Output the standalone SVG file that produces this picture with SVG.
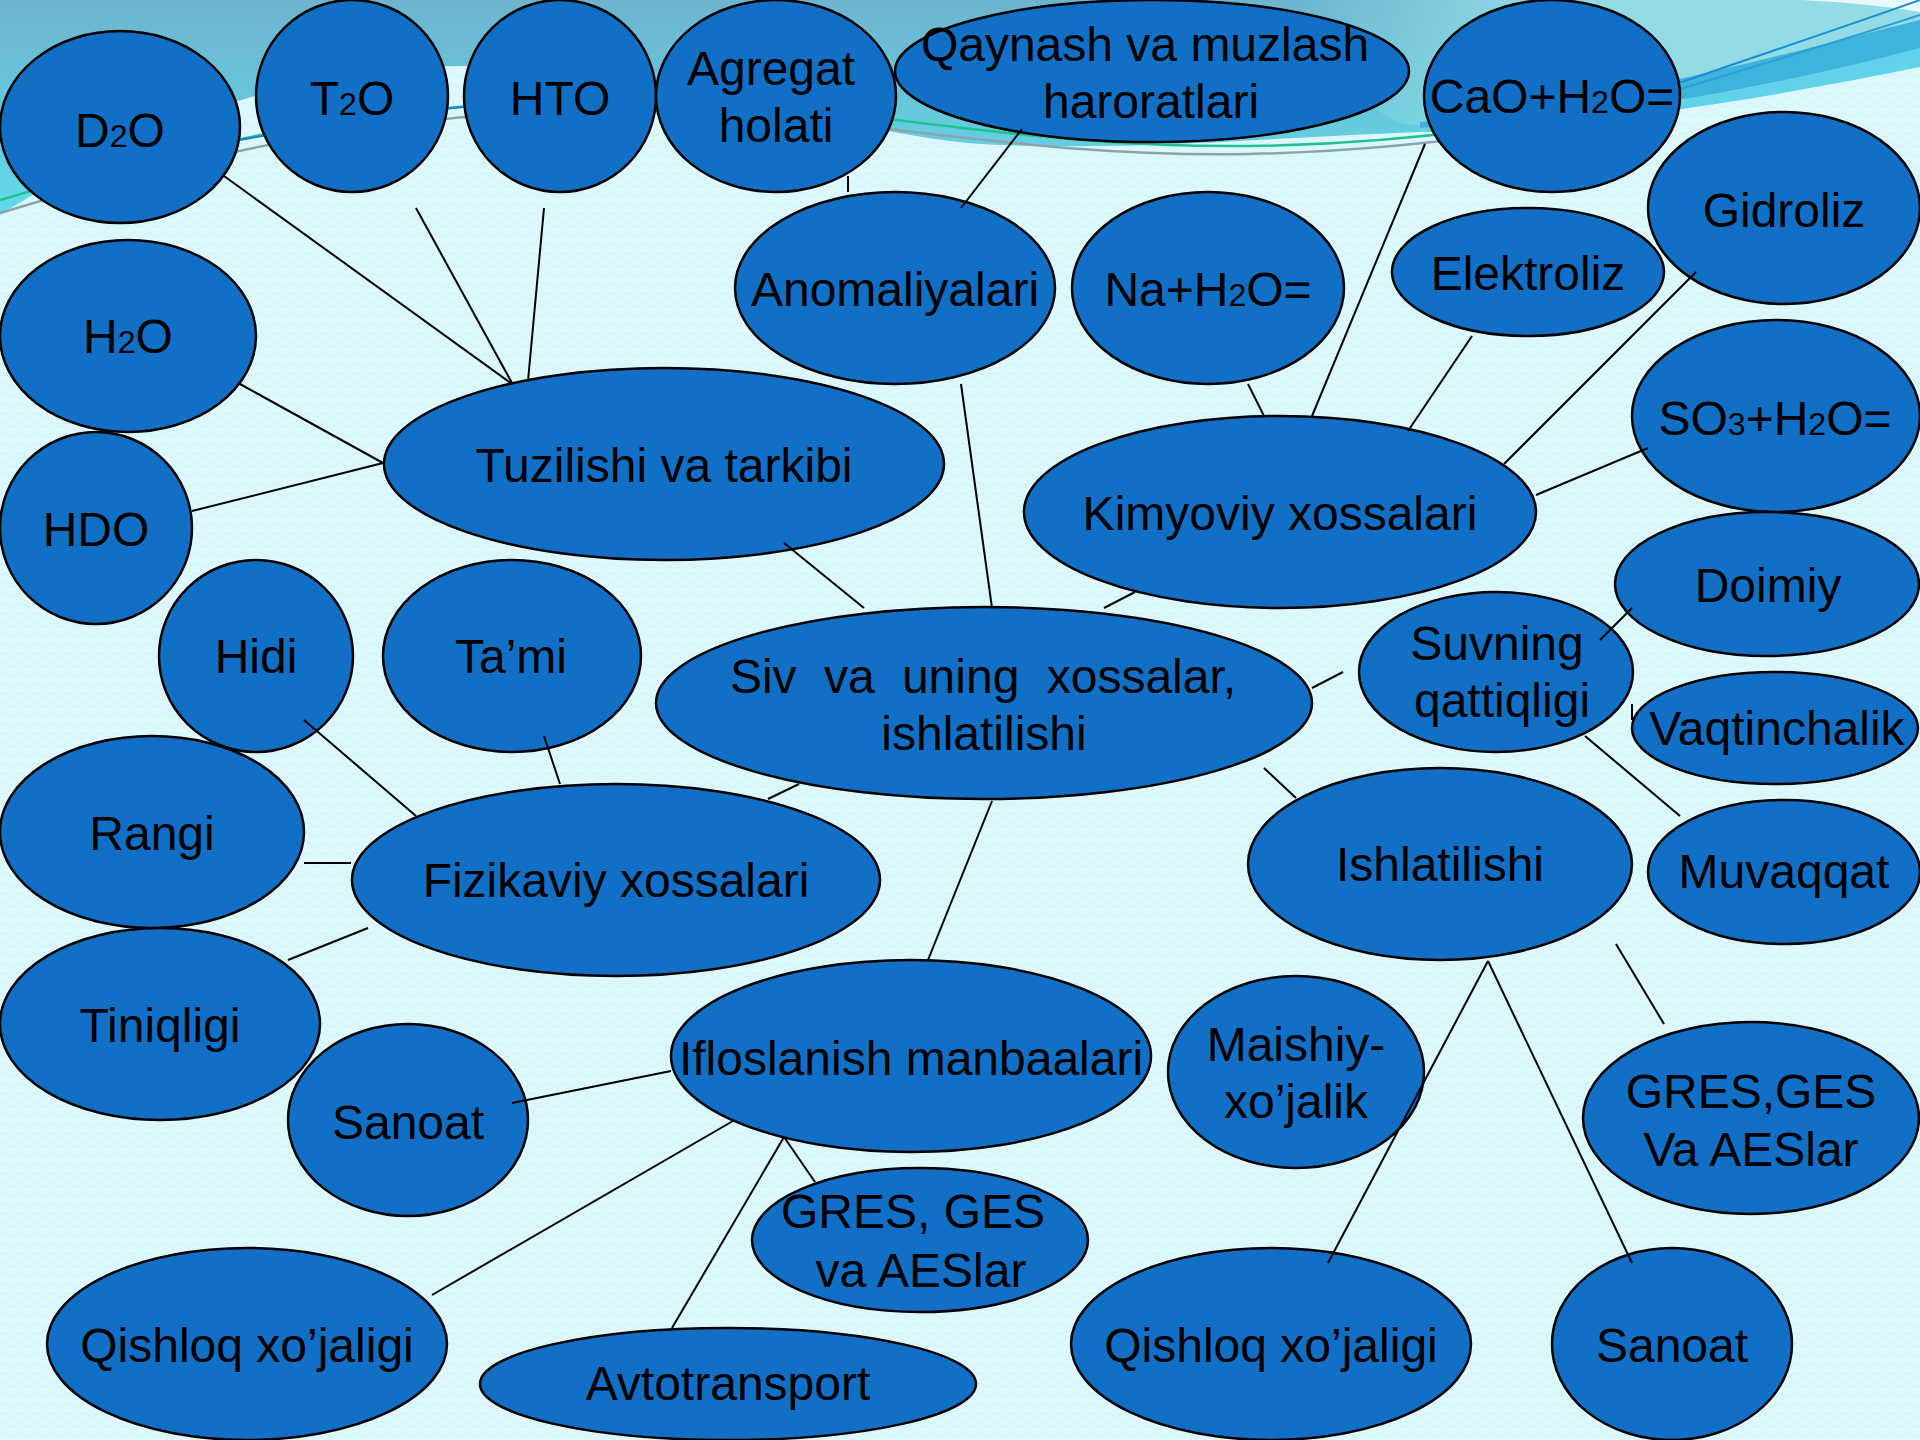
<svg xmlns="http://www.w3.org/2000/svg" width="1920" height="1440" viewBox="0 0 1920 1440">
<defs>
<style>
.node{fill:#1170c6;stroke:#000;stroke-width:2.5}
.t{font-family:"Liberation Sans",Arial,sans-serif;font-size:48px;fill:#000;text-anchor:middle}
.s{font-size:32px}
.c{stroke:#000;stroke-width:2;fill:none}
</style>
<linearGradient id="topg" x1="0" y1="0" x2="0" y2="1">
<stop offset="0" stop-color="#6fb4cf"/>
<stop offset="1" stop-color="#5fdbe8"/>
</linearGradient>
<linearGradient id="rightg" x1="1300" y1="0" x2="1560" y2="0" gradientUnits="userSpaceOnUse">
<stop offset="0" stop-color="#93dce6" stop-opacity="0"/>
<stop offset="1" stop-color="#93dce6" stop-opacity="1"/>
</linearGradient>
<pattern id="wave" width="16" height="10" patternUnits="userSpaceOnUse">
<path d="M0,5 Q4,1 8,5 T16,5" fill="none" stroke="#c9eff5" stroke-width="1"/>
</pattern>
</defs>
<g id="background">
<rect width="1920" height="1440" fill="#dcf8fc"/>
<rect width="1920" height="1440" fill="url(#wave)" opacity="0.7"/>
<path d="M0,0 H1920 V60 C1780,90 1600,128 1420,132 C1260,138 1150,150 1000,145 C850,140 720,70 460,66 C300,66 150,120 0,215 Z" fill="url(#topg)"/>
<path d="M1300,0 H1920 V20 C1780,55 1600,110 1420,125 C1380,128 1340,80 1300,0 Z" fill="url(#rightg)"/>
<path d="M1420,122 C1600,105 1780,55 1920,20 V48 C1780,85 1600,120 1420,128 Z" fill="#3eb3db"/>
<path d="M1420,128 C1600,120 1780,85 1920,48 V67 C1780,95 1600,128 1420,132 Z" fill="#62d2ea"/>
<path d="M1800,0 H1920 V12 C1880,5 1840,2 1800,0 Z" fill="#ffffff" opacity="0.8"/>
<path d="M0,200 C200,140 400,100 620,100 C850,100 1000,148 1250,146 C1420,144 1560,120 1680,92" fill="none" stroke="#1fc28f" stroke-width="2.5"/>
<path d="M0,213 C200,152 400,110 620,110 C850,110 1000,158 1250,154 C1420,150 1560,128 1680,100" fill="none" stroke="#8aa4ab" stroke-width="2.5"/>
<path d="M240,140 C400,110 500,100 620,100" fill="none" stroke="#1b7fd0" stroke-width="2"/>
<path d="M1670,86 C1760,55 1850,25 1920,0" fill="none" stroke="#1b8fd0" stroke-width="2"/>
<path d="M1670,92 C1760,65 1850,38 1920,15" fill="none" stroke="#2a9fd8" stroke-width="2"/>
</g>
<g id="nodes">
<g id="n-d2o"><ellipse class="node" cx="120" cy="127" rx="120" ry="96"/><text class="t" x="120" y="147">D<tspan class="s">2</tspan>O</text></g>
<g id="n-t2o"><ellipse class="node" cx="352" cy="96" rx="96" ry="96"/><text class="t" x="352" y="115">T<tspan class="s">2</tspan>O</text></g>
<g id="n-hto"><ellipse class="node" cx="560" cy="96" rx="96" ry="96"/><text class="t" x="560" y="115">HTO</text></g>
<g id="n-agregat"><ellipse class="node" cx="776" cy="96" rx="120" ry="96"/><text class="t" x="771" y="85">Agregat</text><text class="t" x="776" y="142">holati</text></g>
<g id="n-qaynash"><ellipse class="node" cx="1152" cy="71" rx="257" ry="71"/><text class="t" x="1145" y="61">Qaynash va muzlash</text><text class="t" x="1151" y="118">haroratlari</text></g>
<g id="n-cao"><ellipse class="node" cx="1552" cy="96" rx="128" ry="96"/><text class="t" x="1552" y="113">CaO+H<tspan class="s">2</tspan>O=</text></g>
<g id="n-gidroliz"><ellipse class="node" cx="1784" cy="208" rx="136" ry="96"/><text class="t" x="1784" y="227">Gidroliz</text></g>
<g id="n-h2o"><ellipse class="node" cx="128" cy="336" rx="128" ry="96"/><text class="t" x="128" y="353">H<tspan class="s">2</tspan>O</text></g>
<g id="n-hdo"><ellipse class="node" cx="96" cy="528" rx="96" ry="96"/><text class="t" x="96" y="546">HDO</text></g>
<g id="n-tuzilishi"><ellipse class="node" cx="664" cy="464" rx="280" ry="96"/><text class="t" x="664" y="482">Tuzilishi va tarkibi</text></g>
<g id="n-anomaliyalari"><ellipse class="node" cx="895" cy="288" rx="160" ry="96"/><text class="t" x="895" y="306">Anomaliyalari</text></g>
<g id="n-na"><ellipse class="node" cx="1208" cy="288" rx="136" ry="96"/><text class="t" x="1208" y="306">Na+H<tspan class="s">2</tspan>O=</text></g>
<g id="n-elektroliz"><ellipse class="node" cx="1528" cy="272" rx="136" ry="64"/><text class="t" x="1528" y="290">Elektroliz</text></g>
<g id="n-kimyoviy"><ellipse class="node" cx="1280" cy="512" rx="256" ry="96"/><text class="t" x="1280" y="530">Kimyoviy xossalari</text></g>
<g id="n-so3"><ellipse class="node" cx="1776" cy="416" rx="144" ry="96"/><text class="t" x="1775" y="435">SO<tspan class="s">3</tspan>+H<tspan class="s">2</tspan>O=</text></g>
<g id="n-doimiy"><ellipse class="node" cx="1767" cy="584" rx="152" ry="72"/><text class="t" x="1768" y="602">Doimiy</text></g>
<g id="n-suvning"><ellipse class="node" cx="1496" cy="672" rx="137" ry="80"/><text class="t" x="1497" y="660">Suvning</text><text class="t" x="1502" y="717">qattiqligi</text></g>
<g id="n-vaqtinchalik"><ellipse class="node" cx="1775" cy="728" rx="143" ry="56"/><text class="t" x="1777" y="745">Vaqtinchalik</text></g>
<g id="n-muvaqqat"><ellipse class="node" cx="1784" cy="872" rx="136" ry="72"/><text class="t" x="1784" y="888">Muvaqqat</text></g>
<g id="n-ishlatilishi"><ellipse class="node" cx="1440" cy="864" rx="192" ry="96"/><text class="t" x="1440" y="881">Ishlatilishi</text></g>
<g id="n-siv"><ellipse class="node" cx="984" cy="703" rx="328" ry="96"/><text class="t" x="983" y="693" word-spacing="14">Siv va uning xossalar,</text><text class="t" x="984" y="750">ishlatilishi</text></g>
<g id="n-hidi"><ellipse class="node" cx="256" cy="656" rx="97" ry="96"/><text class="t" x="256" y="673">Hidi</text></g>
<g id="n-tami"><ellipse class="node" cx="512" cy="656" rx="129" ry="96"/><text class="t" x="511" y="673">Ta’mi</text></g>
<g id="n-rangi"><ellipse class="node" cx="152" cy="832" rx="152" ry="96"/><text class="t" x="152" y="850">Rangi</text></g>
<g id="n-fizikaviy"><ellipse class="node" cx="616" cy="880" rx="264" ry="96"/><text class="t" x="616" y="897">Fizikaviy xossalari</text></g>
<g id="n-tiniqligi"><ellipse class="node" cx="160" cy="1024" rx="160" ry="96"/><text class="t" x="160" y="1042">Tiniqligi</text></g>
<g id="n-sanoat1"><ellipse class="node" cx="408" cy="1120" rx="120" ry="96"/><text class="t" x="408" y="1139">Sanoat</text></g>
<g id="n-ifloslanish"><ellipse class="node" cx="911" cy="1056" rx="240" ry="96"/><text class="t" x="911" y="1075">Ifloslanish manbaalari</text></g>
<g id="n-maishiy"><ellipse class="node" cx="1296" cy="1072" rx="128" ry="96"/><text class="t" x="1296" y="1061">Maishiy-</text><text class="t" x="1296" y="1118">xo’jalik</text></g>
<g id="n-gres2"><ellipse class="node" cx="1751" cy="1118" rx="168" ry="96"/><text class="t" x="1751" y="1108">GRES,GES</text><text class="t" x="1751" y="1166">Va AESlar</text></g>
<g id="n-gres1"><ellipse class="node" cx="920" cy="1240" rx="168" ry="72"/><text class="t" x="913" y="1228">GRES, GES</text><text class="t" x="921" y="1287">va AESlar</text></g>
<g id="n-qishloq1"><ellipse class="node" cx="247" cy="1344" rx="200" ry="96"/><text class="t" x="247" y="1362">Qishloq xo’jaligi</text></g>
<g id="n-avto"><ellipse class="node" cx="728" cy="1384" rx="248" ry="56"/><text class="t" x="728" y="1400">Avtotransport</text></g>
<g id="n-qishloq2"><ellipse class="node" cx="1271" cy="1344" rx="200" ry="96"/><text class="t" x="1271" y="1362">Qishloq xo’jaligi</text></g>
<g id="n-sanoat2"><ellipse class="node" cx="1672" cy="1344" rx="120" ry="96"/><text class="t" x="1672" y="1362">Sanoat</text></g>
</g>
<g id="connectors">
<line class="c" x1="224" y1="176" x2="512" y2="384"/>
<line class="c" x1="416" y1="208" x2="512" y2="383"/>
<line class="c" x1="544" y1="208" x2="528" y2="381"/>
<line class="c" x1="240" y1="384" x2="383" y2="463"/>
<line class="c" x1="192" y1="511" x2="383" y2="463"/>
<line class="c" x1="848" y1="176" x2="848" y2="192"/>
<line class="c" x1="1022" y1="129" x2="961" y2="208"/>
<line class="c" x1="784" y1="543" x2="864" y2="608"/>
<line class="c" x1="961" y1="384" x2="992" y2="608"/>
<line class="c" x1="1135" y1="592" x2="1104" y2="608"/>
<line class="c" x1="1248" y1="384" x2="1264" y2="416"/>
<line class="c" x1="1425" y1="144" x2="1312" y2="416"/>
<line class="c" x1="1472" y1="336" x2="1408" y2="431"/>
<line class="c" x1="1696" y1="272" x2="1504" y2="464"/>
<line class="c" x1="1648" y1="448" x2="1536" y2="495"/>
<line class="c" x1="1312" y1="688" x2="1343" y2="672"/>
<line class="c" x1="1600" y1="640" x2="1632" y2="608"/>
<line class="c" x1="1632" y1="704" x2="1632" y2="720"/>
<line class="c" x1="1585" y1="736" x2="1680" y2="816"/>
<line class="c" x1="1264" y1="768" x2="1296" y2="798"/>
<line class="c" x1="1616" y1="944" x2="1664" y2="1024"/>
<line class="c" x1="1488" y1="961" x2="1328" y2="1263"/>
<line class="c" x1="1488" y1="961" x2="1632" y2="1263"/>
<line class="c" x1="799" y1="784" x2="768" y2="799"/>
<line class="c" x1="544" y1="736" x2="560" y2="784"/>
<line class="c" x1="304" y1="720" x2="416" y2="816"/>
<line class="c" x1="304" y1="863" x2="351" y2="863"/>
<line class="c" x1="288" y1="960" x2="368" y2="928"/>
<line class="c" x1="992" y1="801" x2="928" y2="960"/>
<line class="c" x1="512" y1="1103" x2="671" y2="1071"/>
<line class="c" x1="733" y1="1121" x2="432" y2="1295"/>
<line class="c" x1="784" y1="1137" x2="672" y2="1328"/>
<line class="c" x1="784" y1="1137" x2="815" y2="1182"/>
</g>
</svg>
